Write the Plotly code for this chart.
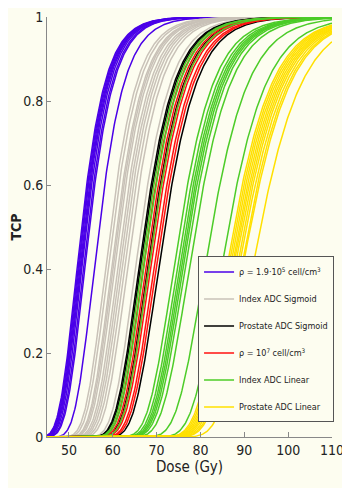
import numpy as np
import plotly.graph_objects as go

# D50 values (Gy) read at TCP = 0.5 for each curve, per group
blue_d50 = [52.9, 53.1, 53.3, 53.5, 53.7, 54.0, 54.4, 54.7, 56.9]
gray_d50 = [59.5, 60.1, 60.9, 61.2, 61.6, 62.3, 62.8, 63.3, 63.9, 64.6, 66.5]
black_d50 = [67.3, 67.6, 69.3, 71.9]
red_d50 = [68.3, 68.9, 69.5, 70.0, 70.8, 71.3]
green_d50 = [67.9, 68.4, 69.6, 75.4, 76.2, 76.7, 77.1, 77.5, 78.0, 79.0, 82.6, 86.4]
yellow_d50 = [87.6, 88.0, 88.4, 88.8, 89.2, 89.6, 90.0, 90.5, 91.0, 91.4, 93.7]
# normalised slope of the TCP curves
slope_c = 14.0

group_names = ["ρ = 1.9·10<sup>5</sup> cell/cm<sup>3</sup>", "Index ADC Sigmoid",
               "Prostate ADC Sigmoid", "ρ = 10<sup>7</sup> cell/cm<sup>3</sup>",
               "Index ADC Linear", "Prostate ADC Linear"]
group_colors = ["#4a00e8", "#c9c2b8", "#000000", "#ff1010", "#4ccc28", "#ffe000"]
groups = [blue_d50, gray_d50, black_d50, red_d50, green_d50, yellow_d50]

x_ticks = [50, 60, 70, 80, 90, 100, 110]
y_ticks = [0, 0.2, 0.4, 0.6, 0.8, 1]

dose = np.linspace(45, 110, 400)

def tcp(d, d50):
    return np.exp(-np.log(2) * np.exp(slope_c * (1 - d / d50)))

fig = go.Figure()
for gi, (name, col, vals) in enumerate(zip(group_names, group_colors, groups)):
    for i, d50 in enumerate(vals):
        fig.add_trace(go.Scatter(
            x=dose, y=tcp(dose, d50), mode="lines",
            line=dict(color=col, width=1.5),
            name=name, legendgroup=f"g{gi}", showlegend=(i == 0),
        ))

font_fam = "DejaVu Sans Condensed, Liberation Sans Narrow, Arial Narrow, Liberation Sans, sans-serif"
bg = "#fdfdf0"
fig.update_layout(
    width=342, height=480,
    margin=dict(l=39, r=18, t=9, b=51),
    paper_bgcolor=bg, plot_bgcolor=bg,
    font=dict(family=font_fam, size=13, color="#222"),
    showlegend=True,
    legend=dict(
        x=0.53, y=0.43, xanchor="left", yanchor="top",
        bgcolor=bg, bordercolor="#555", borderwidth=1,
        font=dict(family=font_fam, size=9, color="#222"),
        tracegroupgap=8, traceorder="grouped", itemwidth=30,
    ),
    xaxis=dict(
        range=[45, 110], tickvals=x_ticks, ticks="inside", ticklen=5,
        tickcolor="#888", showline=True, linecolor="#888", linewidth=1,
        showgrid=False, zeroline=False, mirror=False, automargin=False,
        title=dict(text="Dose (Gy)", font=dict(size=15), standoff=2),
        tickfont=dict(size=14),
    ),
    yaxis=dict(
        range=[0, 1], tickvals=y_ticks, ticktext=["0", "0.2", "0.4", "0.6", "0.8", "1"],
        ticks="inside", ticklen=4, tickcolor="#888", showline=True,
        linecolor="#888", linewidth=1, showgrid=False, zeroline=False,
        automargin=False,
        title=dict(text="<b>TCP</b>", font=dict(size=14), standoff=8),
        tickfont=dict(size=14),
    ),
)

fig.write_html("out.html")
